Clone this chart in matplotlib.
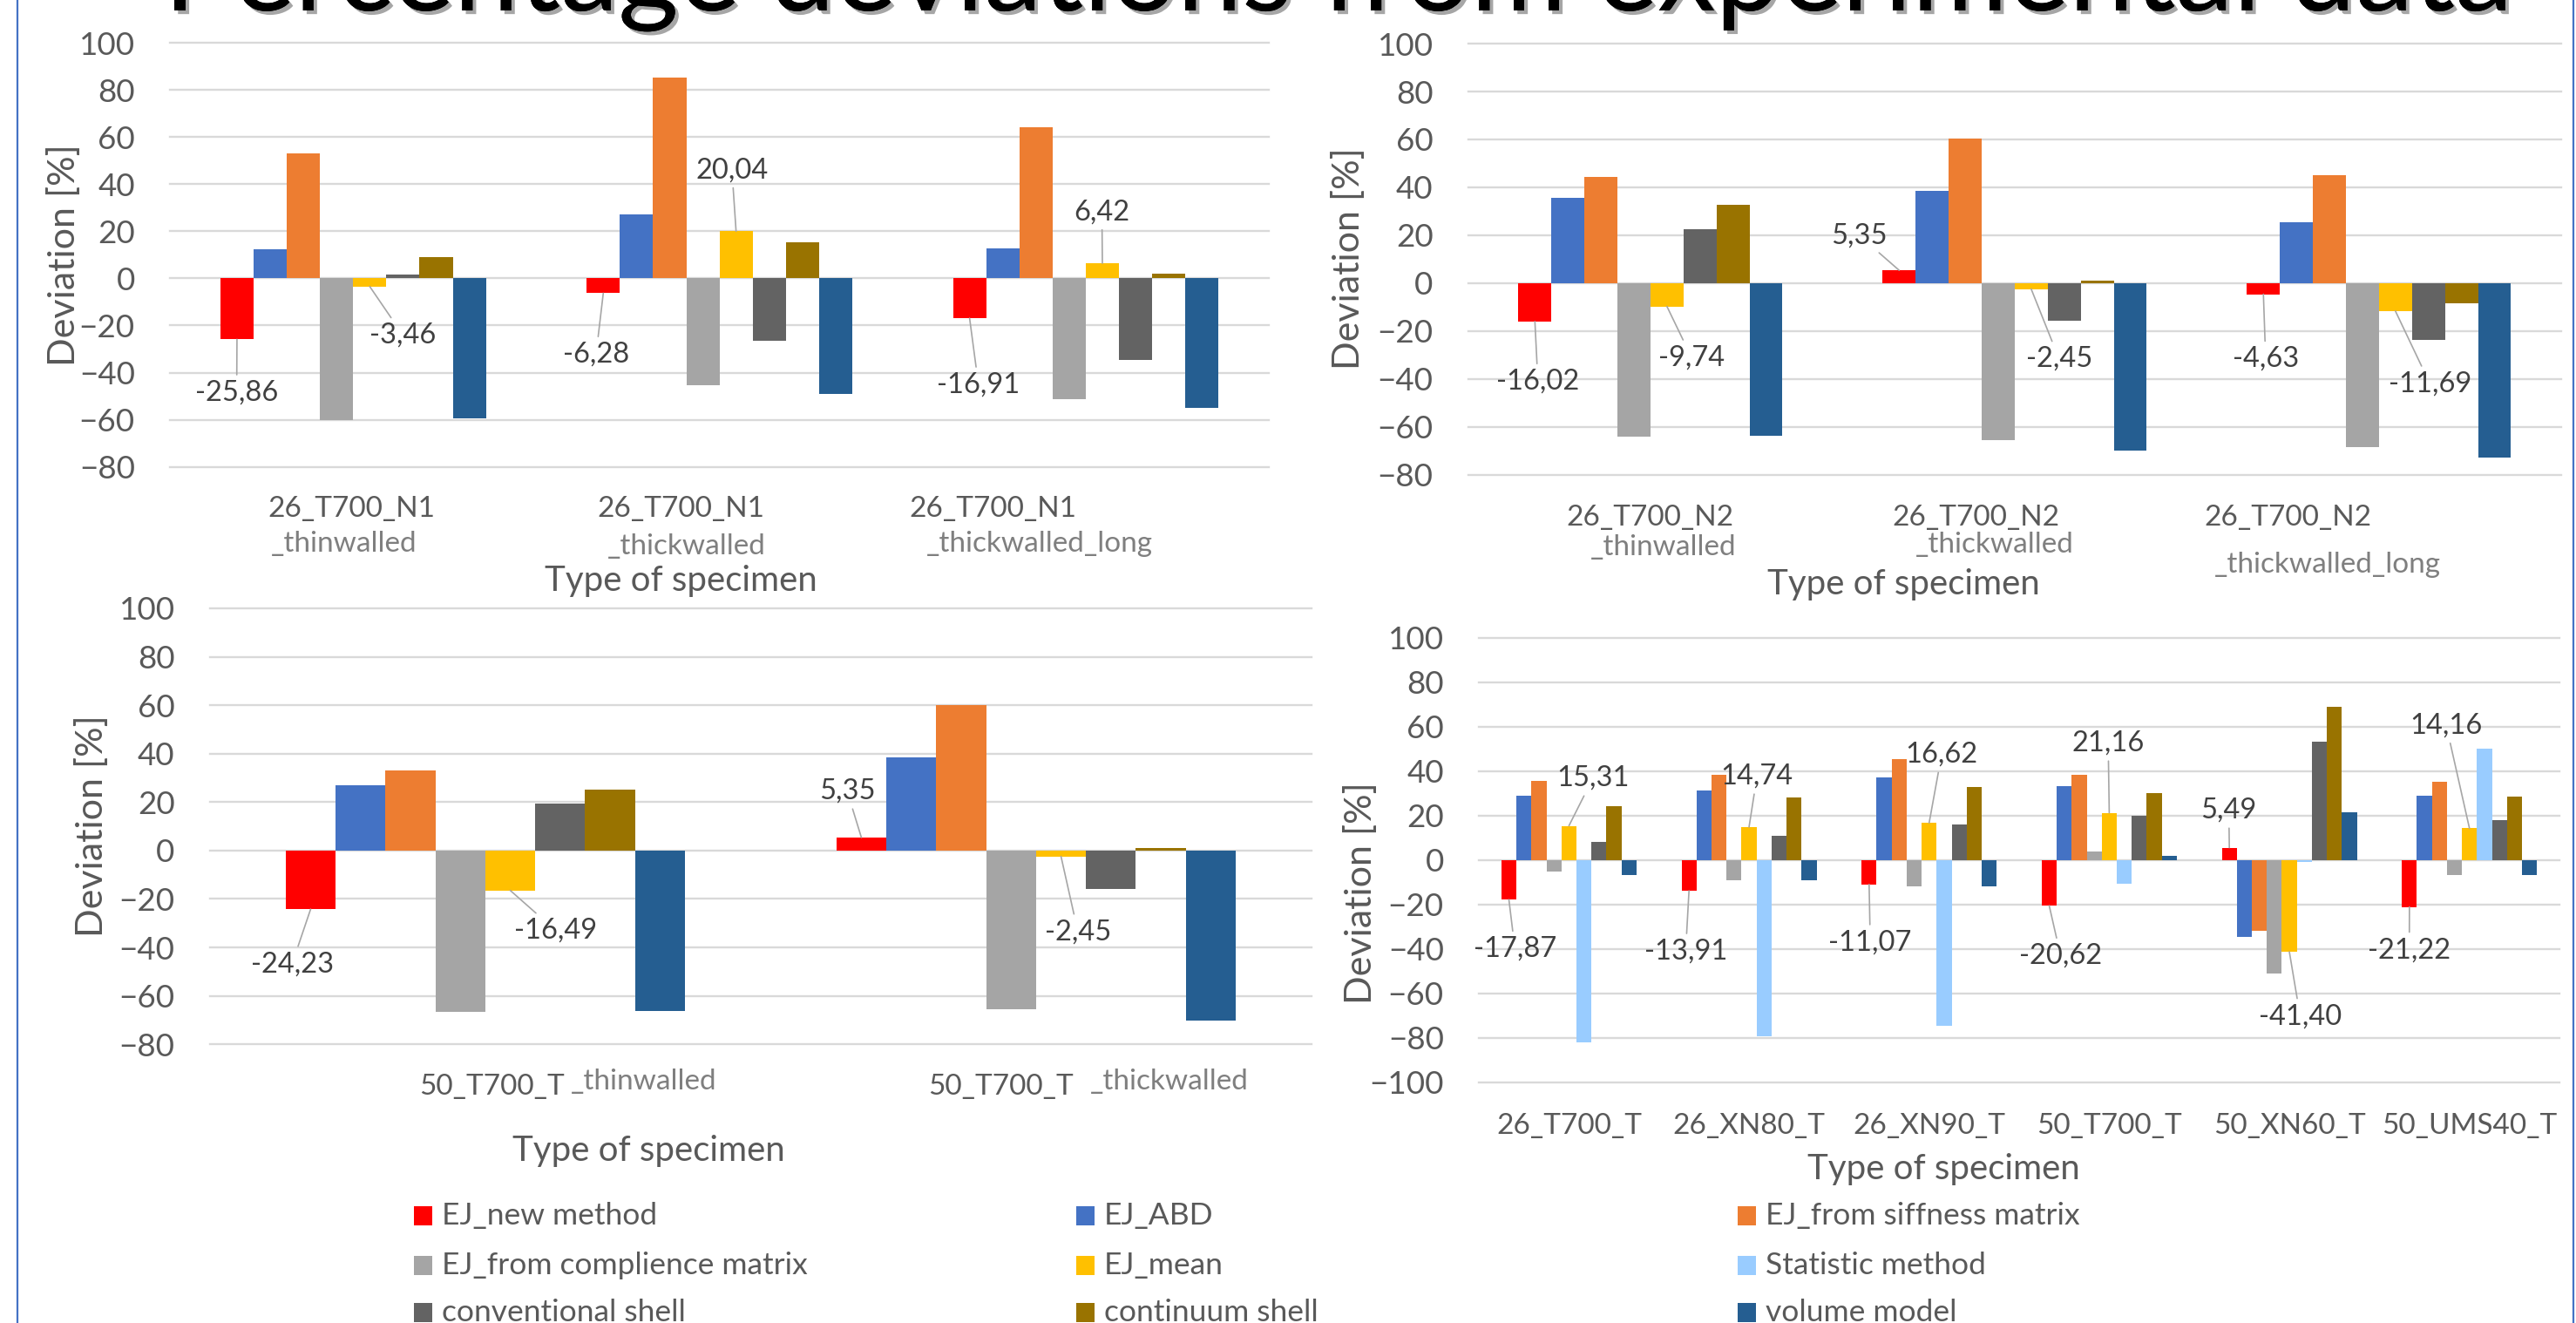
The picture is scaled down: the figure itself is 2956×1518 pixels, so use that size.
import matplotlib
matplotlib.use("Agg")
import matplotlib.pyplot as plt
import matplotlib.patheffects as pe
from matplotlib.patches import Rectangle
from matplotlib.lines import Line2D
import numpy as np

plt.rcParams['font.family'] = ['Lato', 'DejaVu Sans']

W, H, DPI = 2956, 1518, 100

# ---------------------------------------------------------------- data
SERIES = ["EJ_new method", "EJ_ABD", "EJ_from siffness matrix",
          "EJ_from complience matrix", "EJ_mean", "Statistic method",
          "conventional shell", "continuum shell", "volume model"]
COLORS = ["#FF0000", "#4472C4", "#ED7D31", "#A5A5A5", "#FFC000",
          "#99CCFF", "#636363", "#997300", "#255E91"]

# series shown in the three specimen-wall charts (no statistic method)
WALL_SERIES = [0, 1, 2, 3, 4, 6, 7, 8]
ALL_SERIES = list(range(9))

N1_LABELS = [("26_T700_N1", "_thinwalled"),
             ("26_T700_N1", "_thickwalled"),
             ("26_T700_N1", "_thickwalled_long")]
N1_DEV = [
    [-25.86, -6.28, -16.91],   # EJ_new method
    [12.5, 27.2, 12.9],        # EJ_ABD
    [53.0, 85.3, 64.2],        # EJ_from siffness matrix
    [-60.1, -45.2, -51.3],     # EJ_from complience matrix
    [-3.46, 20.04, 6.42],      # EJ_mean
    [1.5, -26.4, -34.7],       # conventional shell
    [9.1, 15.2, 2.1],          # continuum shell
    [-59.4, -49.2, -55.0],     # volume model
]

N2_LABELS = [("26_T700_N2", "_thinwalled"),
             ("26_T700_N2", "_thickwalled"),
             ("26_T700_N2", "_thickwalled_long")]
N2_DEV = [
    [-16.02, 5.35, -4.63],
    [35.6, 38.7, 25.5],
    [44.2, 60.3, 45.0],
    [-64.1, -65.4, -68.6],
    [-9.74, -2.45, -11.69],
    [22.6, -15.6, -23.7],
    [32.7, 1.0, -8.6],
    [-63.9, -70.1, -72.8],
]

T50_LABELS = [("50_T700_T", "_thinwalled"),
              ("50_T700_T", "_thickwalled")]
T50_DEV = [
    [-24.23, 5.35],
    [27.1, 38.3],
    [33.0, 60.2],
    [-66.5, -65.6],
    [-16.49, -2.45],
    [19.5, -15.9],
    [25.2, 0.9],
    [-66.2, -70.4],
]

FIBRE_LABELS = ["26_T700_T", "26_XN80_T", "26_XN90_T",
                "50_T700_T", "50_XN60_T", "50_UMS40_T"]
FIBRE_DEV = [
    [-17.87, -13.91, -11.07, -20.62, 5.49, -21.22],   # EJ_new method
    [28.9, 31.3, 36.9, 33.0, -34.7, 28.9],            # EJ_ABD
    [35.5, 38.1, 45.2, 38.3, -31.8, 35.0],            # EJ_from siffness matrix
    [-5.1, -9.0, -12.1, 3.6, -51.0, -6.8],            # EJ_from complience matrix
    [15.31, 14.74, 16.62, 21.16, -41.40, 14.16],      # EJ_mean
    [-82.3, -79.4, -74.8, -10.7, -0.9, 50.0],         # Statistic method
    [8.2, 10.7, 15.8, 19.7, 53.1, 18.0],              # conventional shell
    [24.1, 28.2, 32.7, 30.1, 69.0, 28.4],             # continuum shell
    [-6.8, -9.2, -12.1, 1.7, 21.4, -6.8],             # volume model
]

TITLE = "Percentage deviations from experimental data"
Y_TITLE = "Deviation [%]"
X_TITLE = "Type of specimen"

# ---------------------------------------------------------------- style
TICK_GREY = "#595959"
LIGHT_GREY = "#7F7F7F"
LABEL_GREY = "#404040"
GRID = "#D9D9D9"
LEADER = "#A6A6A6"


def fmt(v):
    return f"{v:.2f}".replace(".", ",")


def px(x, y):
    return x / W, 1 - y / H


def draw_panel(ax, values, series_idx, ylim, group_frac, spots):
    ncat = len(values[0])
    n = len(series_idx)
    w = group_frac / n
    xs = np.arange(ncat)
    offsets = []
    for k, (si, vals) in enumerate(zip(series_idx, values)):
        off = -group_frac / 2 + w * (k + 0.5)
        offsets.append(off)
        ax.bar(xs + off, vals, width=w, color=COLORS[si], linewidth=0, zorder=3)

    lo, hi = ylim
    ax.set_xlim(-0.5, ncat - 0.5)
    ax.set_ylim(lo, hi)
    ax.set_yticks(np.arange(lo, hi + 1, 20))
    ax.set_xticks([])
    ax.yaxis.grid(True, color=GRID, lw=1.7)
    ax.set_axisbelow(True)
    for gl in ax.get_ygridlines():
        gl.set_clip_on(False)
    for s in ax.spines.values():
        s.set_visible(False)
    ax.tick_params(axis="y", length=0, pad=29, labelsize=26.5,
                   labelcolor=TICK_GREY)
    ax.patch.set_alpha(0)

    # value labels with leader lines
    for k, c, tx, ty in spots:
        v = values[k][c]
        ax.annotate(fmt(v), xy=(c + offsets[k], v), xytext=(tx, ty),
                    textcoords="data", ha="center", va="center",
                    fontsize=23.5, color=LABEL_GREY, zorder=6,
                    annotation_clip=False,
                    arrowprops=dict(arrowstyle="-", color=LEADER, lw=1.2,
                                    shrinkA=2, shrinkB=0))


fig = plt.figure(figsize=(W / DPI, H / DPI), dpi=DPI)
fig.patch.set_facecolor("white")

# ---------------------------------------------------------------- panel 1
ax1 = fig.add_axes([0.0660, 0.6471, 0.4266, 0.3206])
draw_panel(ax1, N1_DEV, WALL_SERIES, (-80, 100), 0.725,
           [(0, 0, -0.318, -48.5), (4, 0, 0.136, -24.1),
            (0, 1, 0.663, -32.3), (4, 1, 1.034, 46.0),
            (0, 2, 1.707, -45.2), (4, 2, 2.044, 28.2)])
for (l1, l2), x1, x2, y2 in zip(N1_LABELS, [-0.004, 0.895, 1.746],
                                [-0.024, 0.910, 1.874], [-112.5, -113.7, -112.5]):
    ax1.text(x1, -98.0, l1, ha="center", va="center", fontsize=24,
             color=TICK_GREY, clip_on=False)
    ax1.text(x2, y2, l2, ha="center", va="center", fontsize=24,
             color=LIGHT_GREY, clip_on=False)
ax1.text(0.895, -128.5, X_TITLE, ha="center", va="center", fontsize=29,
         color=TICK_GREY, clip_on=False)

# ---------------------------------------------------------------- panel 2
ax2 = fig.add_axes([0.5700, 0.6412, 0.4242, 0.3258])
draw_panel(ax2, N2_DEV, WALL_SERIES, (-80, 100), 0.725,
           [(0, 0, -0.309, -41.1), (4, 0, 0.113, -31.1),
            (0, 1, 0.574, 19.8), (4, 1, 1.122, -31.7),
            (0, 2, 1.689, -31.7), (4, 2, 2.140, -42.0)])
for (l1, l2), x1, x2, y2 in zip(N2_LABELS, [-0.002, 0.894, 1.75],
                                [0.036, 0.944, 1.858], [-110.2, -109.4, -117.6]):
    ax2.text(x1, -98.0, l1, ha="center", va="center", fontsize=24,
             color=TICK_GREY, clip_on=False)
    ax2.text(x2, y2, l2, ha="center", va="center", fontsize=24,
             color=LIGHT_GREY, clip_on=False)
ax2.text(0.696, -125.7, X_TITLE, ha="center", va="center", fontsize=29,
         color=TICK_GREY, clip_on=False)

# ---------------------------------------------------------------- panel 3
ax3 = fig.add_axes([0.0815, 0.2107, 0.4276, 0.3295])
draw_panel(ax3, T50_DEV, WALL_SERIES, (-80, 100), 0.725,
           [(0, 0, -0.351, -46.9), (4, 0, 0.127, -32.9),
            (0, 1, 0.657, 24.5), (4, 1, 1.076, -33.6)])
for (l1, l2), xr, xl in zip(T50_LABELS, [0.144, 1.068], [0.155, 1.098]):
    ax3.text(xr, -97.5, l1, ha="right", va="center", fontsize=24,
             color=TICK_GREY, clip_on=False)
    ax3.text(xl, -95.5, l2, ha="left", va="center", fontsize=24,
             color=LIGHT_GREY, clip_on=False)
ax3.text(0.297, -124.0, X_TITLE, ha="center", va="center", fontsize=29,
         color=TICK_GREY, clip_on=False)

# ---------------------------------------------------------------- panel 4
ax4 = fig.add_axes([0.5741, 0.1821, 0.4195, 0.3360])
draw_panel(ax4, FIBRE_DEV, ALL_SERIES, (-100, 100), 0.75,
           [(0, 0, -0.300, -40.1), (4, 0, 0.133, 36.7),
            (0, 1, 0.648, -41.2), (4, 1, 1.044, 37.6),
            (0, 2, 1.673, -37.2), (4, 2, 2.069, 47.3),
            (0, 3, 2.730, -43.2), (4, 3, 2.994, 52.5),
            (0, 4, 3.664, 22.3), (4, 4, 4.060, -70.4),
            (0, 5, 4.666, -40.6), (4, 5, 4.871, 60.5)])
for i, lab in enumerate(FIBRE_LABELS):
    ax4.text(i, -119.7, lab, ha="center", va="center", fontsize=24,
             color=TICK_GREY, clip_on=False)
ax4.text(2.08, -139.3, X_TITLE, ha="center", va="center", fontsize=29,
         color=TICK_GREY, clip_on=False)

# ---------------------------------------------------------------- y titles
for (x, y) in [(73, 293), (1548, 297), (105, 948), (1562, 1025)]:
    fig.text(*px(x, y), Y_TITLE, rotation=90, ha="center", va="center",
             fontsize=31, color=TICK_GREY)

# ---------------------------------------------------------------- legend
col_x = [475, 1235, 1994]
row_y = [1395, 1452, 1506]
for idx, (name, col) in enumerate(zip(SERIES, COLORS)):
    r, c = divmod(idx, 3)
    x0, yc = col_x[c], row_y[r]
    fig.add_artist(Rectangle(px(x0, yc + 11), 21 / W, 22 / H,
                             transform=fig.transFigure, facecolor=col,
                             edgecolor="none"))
    fig.text(*px(x0 + 32, yc), name, ha="left", va="center",
             fontsize=25.5, color=TICK_GREY)

# ---------------------------------------------------------------- title
fig.text(*px(1536, 12), TITLE, ha="center", va="baseline", fontsize=96,
         color="black",
         path_effects=[pe.withSimplePatchShadow(offset=(3, -3),
                                                shadow_rgbFace="black",
                                                alpha=0.35),
                       pe.Normal()])

# ---------------------------------------------------------------- frame
for xf in (20, 2953):
    fig.add_artist(Line2D([xf / W, xf / W], [0, 1], transform=fig.transFigure,
                          color="#4472C4", lw=1.6))

fig.savefig("out.png", dpi=DPI, facecolor="white")
